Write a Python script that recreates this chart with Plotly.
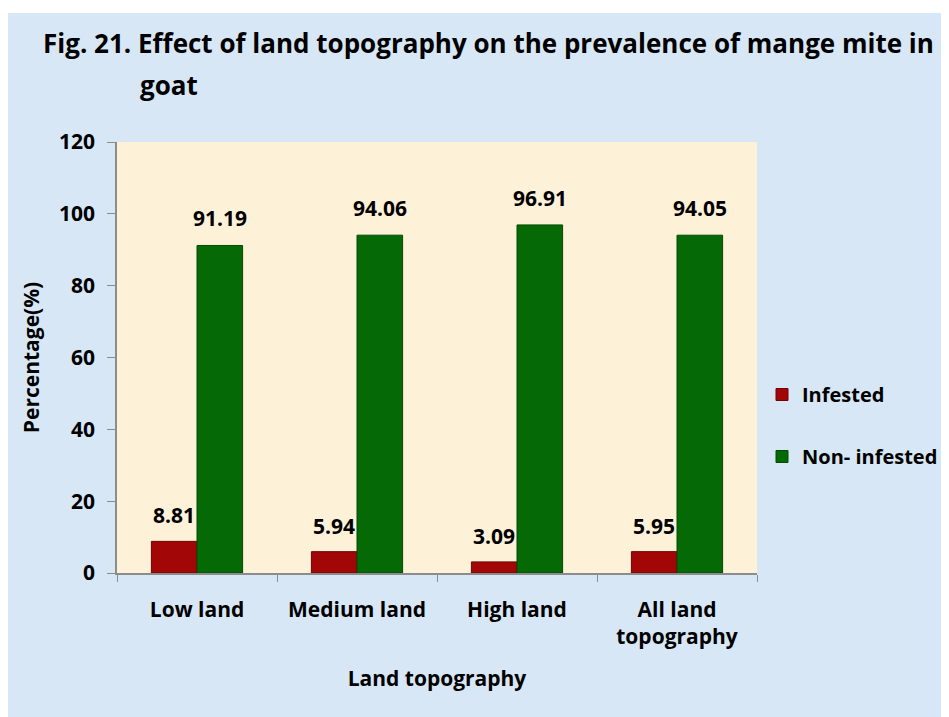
import plotly.graph_objects as go

categories = ["Low land", "Medium land", "High land", "All land<br>topography"]
infested = [8.81, 5.94, 3.09, 5.95]
non_infested = [91.19, 94.06, 96.91, 94.05]
y_ticks = [0, 20, 40, 60, 80, 100, 120]

FONT = "Open Sans"
OFF = 8  # page body margin
W, H = 949 - OFF, 717 - OFF
L, T = 117 - OFF, 142 - OFF
R = W - (757 - OFF)
B = H - (573 - OFF)
pw, ph = W - L - R, H - T - B
BARGAP = 0.43

def sx(p):  # screen px -> paper x
    return (p - OFF - L) / pw

def sy(p):  # screen px -> paper y
    return (H - B - (p - OFF)) / ph

fig = go.Figure()
fig.add_trace(go.Bar(
    x=categories, y=infested, name="Infested", legendgroup="a",
    marker=dict(color="#a20606", line=dict(color="#6e0404", width=1)),
))
fig.add_trace(go.Bar(
    x=categories, y=non_infested, name="Non- infested", legendgroup="b",
    marker=dict(color="#056a05", line=dict(color="#034a03", width=1)),
))

half = (1 - BARGAP) / 4
annotations = []
for i, v in enumerate(infested):
    annotations.append(dict(x=i - half, y=v, xref="x", yref="y", text=f"{v:.2f}",
                            showarrow=False, yanchor="bottom", yshift=10,
                            font=dict(family=FONT, size=21, color="black", weight="bold")))
for i, v in enumerate(non_infested):
    annotations.append(dict(x=i + half, y=v, xref="x", yref="y", text=f"{v:.2f}",
                            showarrow=False, yanchor="bottom", yshift=11,
                            font=dict(family=FONT, size=21, color="black", weight="bold")))

annotations += [
    dict(text="Fig. 21. Effect of land topography on the prevalence of mange mite in",
         xref="paper", yref="paper", x=sx(41), y=sy(43), xanchor="left", yanchor="middle",
         showarrow=False, font=dict(family=FONT, size=26, color="black", weight="bold")),
    dict(text="goat",
         xref="paper", yref="paper", x=sx(138), y=sy(85), xanchor="left", yanchor="middle",
         showarrow=False, font=dict(family=FONT, size=26, color="black", weight="bold")),
]

shapes = [
    dict(type="rect", xref="paper", yref="paper", layer="below",
         x0=sx(0), x1=sx(949), y0=sy(13), y1=sy(OFF),
         fillcolor="white", line=dict(width=0)),
]

fig.update_layout(
    width=W, height=H,
    margin=dict(l=L, r=R, t=T, b=B, pad=0, autoexpand=False),
    paper_bgcolor="#d7e7f5",
    plot_bgcolor="#fdf1d8",
    barmode="group", bargap=BARGAP, bargroupgap=0,
    font=dict(family=FONT, color="black"),
    shapes=shapes,
    annotations=annotations,
    showlegend=True,
    legend=dict(x=sx(762), y=sy(375), xanchor="left", yanchor="top",
                bgcolor="rgba(0,0,0,0)", traceorder="grouped", tracegroupgap=33,
                font=dict(family=FONT, size=20, color="black", weight="bold"),
                itemwidth=30),
    xaxis=dict(
        showline=True, linecolor="#8c8c8c", linewidth=1.5,
        ticks="outside", tickson="boundaries", ticklen=7, tickcolor="#8c8c8c",
        ticklabelstandoff=17,
        tickfont=dict(family=FONT, size=21, color="black", weight="bold"),
        title=dict(text="Land topography", standoff=22,
                   font=dict(family=FONT, size=21, color="black", weight="bold")),
        showgrid=False,
    ),
    yaxis=dict(
        range=[0, 120], tickvals=y_ticks,
        showline=True, linecolor="#8c8c8c", linewidth=1.5,
        ticks="outside", ticklen=8, tickcolor="#8c8c8c",
        ticklabelstandoff=8,
        tickfont=dict(family=FONT, size=21, color="black", weight="bold"),
        title=dict(text="Percentage(%)", standoff=14,
                   font=dict(family=FONT, size=21, color="black", weight="bold")),
        showgrid=False, zeroline=False,
    ),
)

fig.write_html("out.html")
